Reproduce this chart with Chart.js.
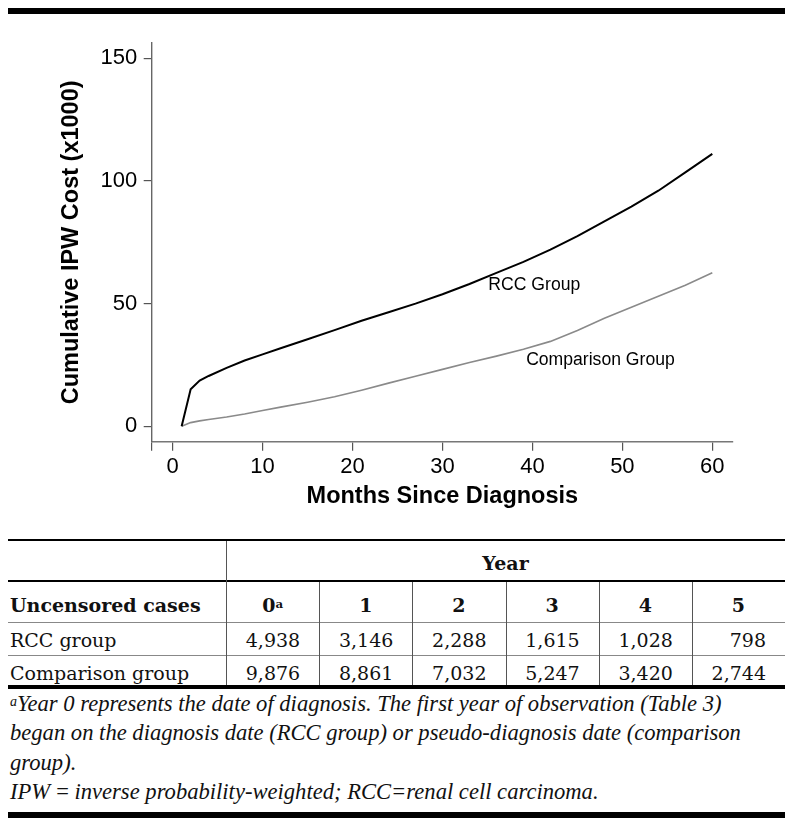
<!DOCTYPE html>
<html>
<head>
<meta charset="utf-8">
<script src="https://cdn.jsdelivr.net/npm/chart.js@4.4.1/dist/chart.umd.min.js"></script>
<style>
  html, body { margin: 0; padding: 0; background: #fff; width: 794px; height: 826px; overflow: hidden; }
  #wrap { position: relative; width: 794px; height: 826px; }
  #chartBox { position: absolute; left: 0; top: 0; width: 794px; height: 530px; }
  .rule { position: absolute; background: #000; }
  .cell { position: absolute; white-space: nowrap; font-family: "DejaVu Serif", serif; font-size: 19px; line-height: 22px; color: #111; }
  .bold { font-weight: bold; }
  .foot { position: absolute; left: 10px; top: 689px; font-family: "Liberation Serif", serif; font-style: italic; font-size: 22.6px; line-height: 29.3px; color: #111; white-space: nowrap; }
  sup { font-size: 0.62em; vertical-align: 0.35em; line-height: 0; }
</style>
</head>
<body>
<div id="wrap">
  <div class="rule" style="left:8px;top:8px;width:777px;height:6px;"></div>
  <div id="chartBox"><canvas id="c" width="794" height="530"></canvas></div>
  <div id="table"></div>
  <div class="foot"><sup>a</sup>Year 0 represents the date of diagnosis. The first year of observation (Table 3)<br>began on the diagnosis date (RCC group) or pseudo-diagnosis date (comparison<br>group).<br>IPW&#8201;=&#8201;inverse probability-weighted; RCC=renal cell carcinoma.</div>
  <div class="rule" style="left:8px;top:812px;width:777px;height:6px;"></div>
</div>
<script>
// ---- Chart data ----
const months   = [1, 2, 3, 4, 6, 8, 10, 12, 15, 18, 21, 24, 27, 30, 33, 36, 39, 42, 45, 48, 51, 54, 57, 60];
const rccCost  = [0, 15.1, 18.6, 20.5, 23.8, 26.8, 29.3, 31.8, 35.5, 39.2, 43.0, 46.5, 50.0, 53.8, 58.0, 62.5, 67.0, 72.0, 77.5, 83.5, 89.5, 96.0, 103.5, 111.0];
const compCost = [0, 1.5, 2.2, 2.8, 3.8, 5.0, 6.4, 7.8, 9.8, 12.0, 14.7, 17.6, 20.4, 23.2, 26.0, 28.6, 31.4, 34.6, 39.0, 44.0, 48.5, 53.0, 57.5, 62.6];
const xTickValues = [0, 10, 20, 30, 40, 50, 60];
const yTickValues = [0, 50, 100, 150];
const seriesNames = ['RCC Group', 'Comparison Group'];

// ---- Table data ----
const yearLabels = ['0', '1', '2', '3', '4', '5'];
const rowLabels  = ['RCC group', 'Comparison group'];
const rccCases   = ['4,938', '3,146', '2,288', '1,615', '1,028', '798'];
const compCases  = ['9,876', '8,861', '7,032', '5,247', '3,420', '2,744'];

const X_MIN = -2.33, X_MAX = 62.3, Y_MIN = -6.28, Y_MAX = 156.2;

const seriesLabelPlugin = {
  id: 'seriesLabels',
  afterDatasetsDraw(chart, args, opts) {
    const { ctx, scales: { x, y } } = chart;
    ctx.save();
    ctx.font = opts.font;
    ctx.fillStyle = '#000';
    ctx.textAlign = 'left';
    ctx.textBaseline = 'middle';
    opts.items.forEach(it => ctx.fillText(it.text, x.getPixelForValue(it.x), y.getPixelForValue(it.y)));
    ctx.restore();
  }
};

const tickFont = { family: 'Liberation Sans', size: 22 };
const titleFont = { family: 'Liberation Sans', size: 23.5, weight: 'bold' };

new Chart(document.getElementById('c'), {
  type: 'line',
  data: {
    datasets: [
      { label: seriesNames[0], data: months.map((m, i) => ({ x: m, y: rccCost[i] })),
        borderColor: '#000', borderWidth: 2, pointRadius: 0, tension: 0, fill: false },
      { label: seriesNames[1], data: months.map((m, i) => ({ x: m, y: compCost[i] })),
        borderColor: '#8a8a8a', borderWidth: 1.6, pointRadius: 0, tension: 0, fill: false }
    ]
  },
  options: {
    responsive: false, animation: false, devicePixelRatio: 1,
    layout: { padding: { left: 0, top: 43, right: 61, bottom: 0 } },
    plugins: {
      legend: { display: false }, tooltip: { enabled: false },
      seriesLabels: {
        font: '17.6px "Liberation Sans"',
        items: [ { text: seriesNames[0], x: 35.1, y: 57.6 }, { text: seriesNames[1], x: 39.3, y: 27.0 } ]
      }
    },
    scales: {
      x: {
        type: 'linear', min: X_MIN, max: X_MAX,
        afterBuildTicks: s => { s.ticks = [{ value: X_MIN }].concat(xTickValues.map(v => ({ value: v }))); },
        ticks: { callback: v => xTickValues.includes(v) ? String(v) : '', font: tickFont, color: '#000', padding: 3, maxRotation: 0, autoSkip: false },
        grid: { drawOnChartArea: false, drawTicks: true, tickLength: 9, color: '#555', lineWidth: 1.2 },
        border: { display: true, color: '#777', width: 1.6 },
        title: { display: true, text: 'Months Since Diagnosis', font: titleFont, color: '#000', padding: { top: 0, bottom: 19 } },
        afterFit: s => { s.height = 88.3; }
      },
      y: {
        type: 'linear', min: Y_MIN, max: Y_MAX,
        afterBuildTicks: s => { s.ticks = yTickValues.map(v => ({ value: v })); },
        ticks: { font: tickFont, color: '#000', padding: 6.4, autoSkip: false },
        grid: { drawOnChartArea: false, drawTicks: true, tickLength: 8, color: '#555', lineWidth: 1.2 },
        border: { display: true, color: '#666', width: 1.4 },
        title: { display: true, text: 'Cumulative IPW Cost (x1000)', font: titleFont, color: '#000', padding: { top: 57.9, bottom: 0 } },
        afterFit: s => { s.width = 151.7; }
      }
    }
  },
  plugins: [seriesLabelPlugin]
});

// ---- Build table ----
(function () {
  const T = document.getElementById('table');
  const L = 8, R = 785, C0 = 226, colW = (R - C0) / 6;
  function rule(top, h, color, left = L, width = R - L) {
    const d = document.createElement('div'); d.className = 'rule';
    d.style.cssText = `left:${left}px;top:${top}px;width:${width}px;height:${h}px;background:${color}`;
    T.appendChild(d);
  }
  function vline(x, top, bottom) {
    const d = document.createElement('div'); d.className = 'rule';
    d.style.cssText = `left:${x}px;top:${top}px;width:1px;height:${bottom - top}px;background:#555`;
    T.appendChild(d);
  }
  function text(html, baseline, opts) {
    const d = document.createElement('div'); d.className = 'cell' + (opts.bold ? ' bold' : '');
    d.innerHTML = html;
    d.style.top = (baseline - 17.6) + 'px';
    if (opts.align === 'left') { d.style.left = opts.x + 'px'; }
    else if (opts.align === 'right') { d.style.right = (794 - opts.x) + 'px'; }
    else { d.style.left = opts.x + 'px'; d.style.transform = 'translateX(-50%)'; }
    T.appendChild(d);
  }
  rule(539, 2, '#000');
  rule(580, 2, '#000');
  rule(622, 1, '#888');
  rule(655, 1, '#888');
  rule(685, 4, '#000');
  vline(C0, 541, 685);
  for (let i = 1; i < 6; i++) vline(Math.round(C0 + i * colW), 582, 685);

  text('Year', 569.5, { bold: true, align: 'center', x: (C0 + R) / 2 });
  text('Uncensored cases', 611.7, { bold: true, align: 'left', x: 10 });
  yearLabels.forEach((y, i) => {
    const html = i === 0 ? y + '<sup style="font-weight:bold">a</sup>' : y;
    text(html, 611.7, { bold: true, align: 'center', x: C0 + (i + 0.5) * colW });
  });
  text(rowLabels[0], 647, { align: 'left', x: 10 });
  text(rowLabels[1], 680, { align: 'left', x: 10 });
  rccCases.forEach((v, i) => text(v, 647, { align: 'right', x: C0 + (i + 1) * colW - 19 }));
  compCases.forEach((v, i) => text(v, 680, { align: 'right', x: C0 + (i + 1) * colW - 19 }));
})();
</script>
</body>
</html>
